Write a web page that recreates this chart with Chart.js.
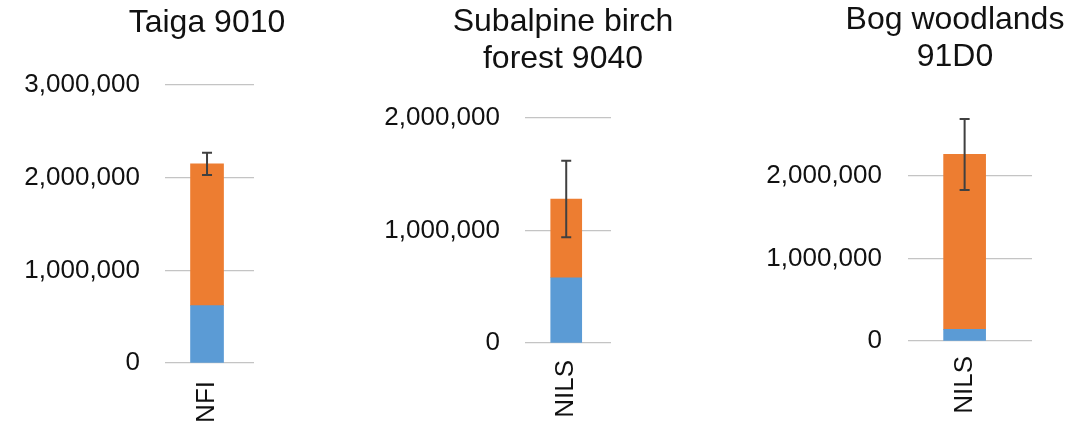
<!DOCTYPE html>
<html lang="en">
<head>
<meta charset="UTF-8">
<script src="https://cdn.jsdelivr.net/npm/chart.js"></script>
<title>Habitat stacked bars</title>
<style>
  body { margin: 0; background: #fff; width: 1085px; height: 425px; position: relative; overflow: hidden; }
  .panel { position: absolute; top: 0; }
  .title { position: absolute; width: 320px; text-align: center; font-family: "Liberation Sans", Arial, sans-serif;
           font-size: 32px; color: #111; line-height: 37px; }
</style>
</head>
<body>

<script>
// chart data
var titles = [['Taiga 9010'], ['Subalpine birch', 'forest 9040'], ['Bog woodlands', '91D0']];
var sources = ['NFI', 'NILS', 'NILS'];
var blueValues = [620000, 580000, 140000];
var orangeValues = [1530000, 700000, 2120000];
var errorValues = [120000, 340000, 430000];
var yMax = [3000000, 2000000, 2750000];
var yTicks = [
  [0, 1000000, 2000000, 3000000],
  [0, 1000000, 2000000],
  [0, 1000000, 2000000]
];

// panel placement (pixels)
var layouts = [
  { left: 0,   width: 280, yWidth: 165, top: 85,  right: 26, xHeight: 62, tickPad: 25, xPad: 10, bar: 33, xMax: 1.25, titleX: 207, titleTop: 3 },
  { left: 360, width: 280, yWidth: 165, top: 118, right: 29, xHeight: 82, tickPad: 25, xPad: 9,  bar: 31, xMax: 1.18, titleX: 563, titleTop: 2 },
  { left: 725, width: 360, yWidth: 183, top: 114, right: 53, xHeight: 84, tickPad: 26, xPad: 7,  bar: 42, xMax: 1.42, titleX: 955, titleTop: 0 }
];

var FONT = '"Liberation Sans", Arial, sans-serif';

// draws the error bar on top of the stacked total
var errorBarPlugin = {
  id: 'errorBar',
  afterDatasetsDraw: function (chart, args, opts) {
    var ctx = chart.ctx;
    var y = chart.scales.y;
    var meta = chart.getDatasetMeta(chart.data.datasets.length - 1);
    meta.data.forEach(function (bar, i) {
      var total = 0;
      chart.data.datasets.forEach(function (ds) { total += ds.data[i].y; });
      var top = y.getPixelForValue(total + opts.error);
      var bottom = y.getPixelForValue(total - opts.error);
      ctx.save();
      ctx.strokeStyle = '#404040';
      ctx.lineWidth = 2;
      ctx.beginPath();
      ctx.moveTo(bar.x, top); ctx.lineTo(bar.x, bottom);
      ctx.moveTo(bar.x - 5, top); ctx.lineTo(bar.x + 5, top);
      ctx.moveTo(bar.x - 5, bottom); ctx.lineTo(bar.x + 5, bottom);
      ctx.stroke();
      ctx.restore();
    });
  }
};

layouts.forEach(function (lay, p) {
  var div = document.createElement('div');
  div.className = 'panel';
  div.style.left = lay.left + 'px';
  var canvas = document.createElement('canvas');
  canvas.width = lay.width;
  canvas.height = 425;
  div.appendChild(canvas);
  document.body.appendChild(div);

  var t = document.createElement('div');
  t.className = 'title';
  t.style.left = (lay.titleX - 160) + 'px';
  t.style.top = lay.titleTop + 'px';
  t.innerHTML = titles[p].join('<br>');
  document.body.appendChild(t);

  new Chart(canvas.getContext('2d'), {
    type: 'bar',
    data: {
      datasets: [
        { label: 'Series 1', data: [{ x: 0, y: blueValues[p] }], backgroundColor: '#5B9BD5', barThickness: lay.bar },
        { label: 'Series 2', data: [{ x: 0, y: orangeValues[p] }], backgroundColor: '#ED7D31', barThickness: lay.bar }
      ]
    },
    options: {
      responsive: false,
      animation: false,
      layout: { padding: { top: lay.top, right: lay.right, left: 0, bottom: 0 } },
      plugins: {
        legend: { display: false },
        tooltip: { enabled: false },
        errorBar: { error: errorValues[p] }
      },
      scales: {
        x: {
          type: 'linear',
          stacked: true,
          min: -1,
          max: lay.xMax,
          grid: { display: false },
          border: { display: false },
          afterBuildTicks: function (axis) { axis.ticks = [{ value: 0 }]; },
          afterFit: function (scale) { scale.height = lay.xHeight; },
          ticks: {
            minRotation: 90,
            maxRotation: 90,
            padding: lay.xPad,
            color: '#111',
            font: { family: FONT, size: 26 },
            callback: function () { return sources[p]; }
          }
        },
        y: {
          stacked: true,
          min: 0,
          max: yMax[p],
          border: { display: false },
          grid: { color: '#c4c4c4', lineWidth: 1.2, drawTicks: false },
          afterBuildTicks: function (axis) {
            axis.ticks = yTicks[p].map(function (v) { return { value: v }; });
          },
          afterFit: function (scale) { scale.width = lay.yWidth; },
          ticks: {
            padding: lay.tickPad,
            color: '#111',
            font: { family: FONT, size: 26 },
            callback: function (v) { return v.toLocaleString('en-US'); }
          }
        }
      }
    },
    plugins: [errorBarPlugin]
  });
});
</script>

</body>
</html>
